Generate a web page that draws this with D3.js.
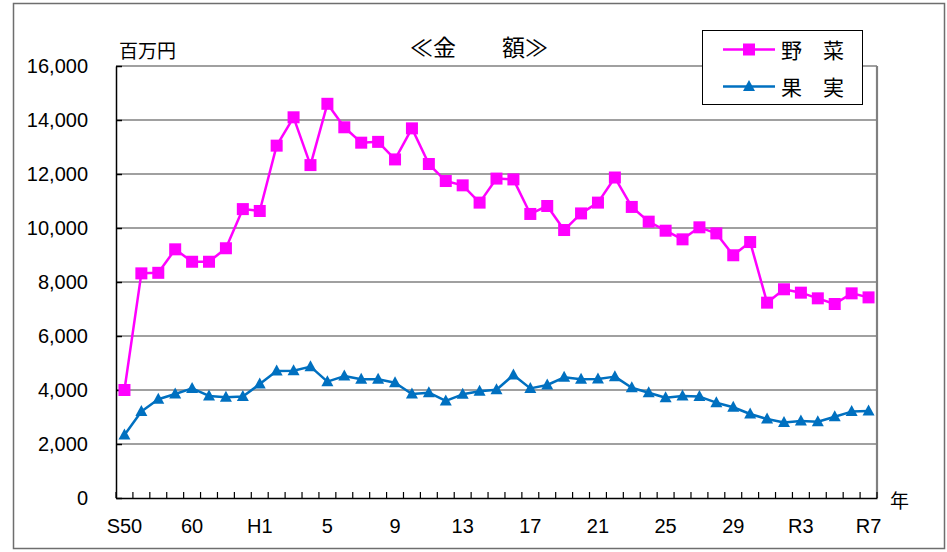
<!DOCTYPE html>
<html><head><meta charset="utf-8">
<script src="https://cdn.jsdelivr.net/npm/d3@7"></script>
<style>
body{margin:0;background:#fff;}
svg{display:block;}
</style>
</head><body>
<svg id="chart" width="947" height="552"></svg>
<script>
const categories = ["S50","S57","S58","S59","S60","S61","S62","S63",
  "H1","H2","H3","H4","H5","H6","H7","H8","H9","H10","H11","H12","H13","H14","H15","H16","H17","H18","H19","H20",
  "H21","H22","H23","H24","H25","H26","H27","H28","H29","H30",
  "R1","R2","R3","R4","R5","R6","R7"];
const tickLabels = {"S50":"S50","S60":"60","H1":"H1","H5":"5","H9":"9","H13":"13","H17":"17","H21":"21","H25":"25","H29":"29","R3":"R3","R7":"R7"};
const vegetables = [4000,8320,8340,9210,8750,8750,9250,10700,10630,13050,14100,12330,14600,13730,13160,13190,12540,13690,12370,11740,11580,10940,11830,11800,10520,10815,9925,10540,10940,11870,10780,10235,9900,9580,10025,9800,8990,9480,7235,7730,7605,7395,7185,7580,7430];
const fruits = [2330,3200,3655,3850,4060,3780,3730,3755,4220,4705,4715,4865,4310,4515,4395,4395,4270,3850,3900,3595,3840,3950,4010,4555,4060,4185,4470,4395,4405,4495,4085,3900,3715,3780,3755,3530,3360,3110,2925,2800,2850,2825,3010,3200,3220];
const yTicks = [0,2000,4000,6000,8000,10000,12000,14000,16000];
const seriesNames = ["野　菜","果　実"];

const svg = d3.select("#chart");
const L=116, R=877, T=66, B=498;
const x = d3.scaleBand().domain(categories).range([L,R]).paddingInner(0).paddingOuter(0);
const y = d3.scaleLinear().domain([0,16000]).range([B,T]);
const cx = c => x(c)+x.bandwidth()/2;
const jp = "'Noto Sans CJK JP', sans-serif";
const num = "'Liberation Sans', Arial, sans-serif";

// outer frame
svg.append("rect").attr("x",13.5).attr("y",3.5).attr("width",931).attr("height",545)
  .attr("fill","#fff").attr("stroke","#6e6e6e").attr("stroke-width",1.5);

// gridlines
svg.append("g").selectAll("line").data(yTicks.filter(d=>d>0)).join("line")
  .attr("x1",L).attr("x2",R).attr("y1",d=>y(d)).attr("y2",d=>y(d))
  .attr("stroke","#808080").attr("stroke-width",1.5);
// right border
svg.append("line").attr("x1",R).attr("x2",R).attr("y1",T).attr("y2",B)
  .attr("stroke","#808080").attr("stroke-width",2.2);

// y axis
const yAxis = svg.append("g").attr("transform",`translate(${L},0)`)
  .call(d3.axisLeft(y).tickValues(yTicks).tickFormat(d3.format(",")).tickSizeInner(-6).tickSizeOuter(0).tickPadding(28));
yAxis.select(".domain").attr("stroke","#000").attr("stroke-width",1.5);
yAxis.selectAll(".tick line").attr("stroke","#000").attr("stroke-width",1.5);
yAxis.selectAll("text").attr("font-family",num).attr("font-size",20).attr("fill","#000");

// x axis (labels)
const xAxis = svg.append("g").attr("transform",`translate(0,${B})`)
  .call(d3.axisBottom(x).tickValues(categories.filter(c=>tickLabels[c])).tickFormat(c=>tickLabels[c]).tickSize(0).tickPadding(21));
xAxis.select(".domain").attr("stroke","#000").attr("stroke-width",1.5);
xAxis.selectAll("text").attr("font-family",num).attr("font-size",20).attr("fill","#000");
// x tick marks at category boundaries (inside)
const bounds = categories.map(c=>x(c)).concat([R]);
svg.append("g").selectAll("line").data(bounds).join("line")
  .attr("x1",d=>d).attr("x2",d=>d).attr("y1",B).attr("y2",B-6)
  .attr("stroke","#000").attr("stroke-width",1.2);

// lines
const lineGen = d3.line().x((d,i)=>cx(categories[i])).y(d=>y(d));
svg.append("path").datum(fruits).attr("d",lineGen).attr("fill","none")
  .attr("stroke","#0070C0").attr("stroke-width",2.5).attr("stroke-linejoin","round");
svg.append("path").datum(vegetables).attr("d",lineGen).attr("fill","none")
  .attr("stroke","#FF00FF").attr("stroke-width",2.5).attr("stroke-linejoin","round");

const tri = "M0,-6.5L6,4.5L-6,4.5Z";
svg.append("g").selectAll("path").data(fruits).join("path")
  .attr("d",tri).attr("transform",(d,i)=>`translate(${cx(categories[i])},${y(d)})`)
  .attr("fill","#0070C0");
svg.append("g").selectAll("rect").data(vegetables).join("rect")
  .attr("x",(d,i)=>cx(categories[i])-6).attr("y",d=>y(d)-6).attr("width",12).attr("height",12)
  .attr("fill","#FF00FF");

// title
svg.append("text").attr("x",479).attr("y",56).attr("text-anchor","middle")
  .attr("font-family",jp).attr("font-size",23).attr("fill","#000").text("≪金　　額≫");
// unit
svg.append("text").attr("x",119).attr("y",58).attr("font-family",jp).attr("font-size",19).attr("fill","#000").text("百万円");
// year
svg.append("text").attr("x",890).attr("y",508).attr("font-family",jp).attr("font-size",19).attr("fill","#000").text("年");

// legend
const lg = svg.append("g");
lg.append("rect").attr("x",702.5).attr("y",30.5).attr("width",160).attr("height",74)
  .attr("fill","#fff").attr("stroke","#000").attr("stroke-width",1);
const legendItems = [{name:seriesNames[0],color:"#FF00FF",shape:"sq",y:49.5},{name:seriesNames[1],color:"#0070C0",shape:"tri",y:86.5}];
legendItems.forEach(it=>{
  lg.append("line").attr("x1",723).attr("x2",775).attr("y1",it.y).attr("y2",it.y).attr("stroke",it.color).attr("stroke-width",2.5);
  if(it.shape==="sq") lg.append("rect").attr("x",743).attr("y",it.y-6).attr("width",12).attr("height",12).attr("fill",it.color);
  else lg.append("path").attr("d",tri).attr("transform",`translate(749,${it.y})`).attr("fill",it.color);
  lg.append("text").attr("x",781).attr("y",it.y+8).attr("font-family",jp).attr("font-size",21).attr("fill","#000").text(it.name);
});
</script>
</body></html>
